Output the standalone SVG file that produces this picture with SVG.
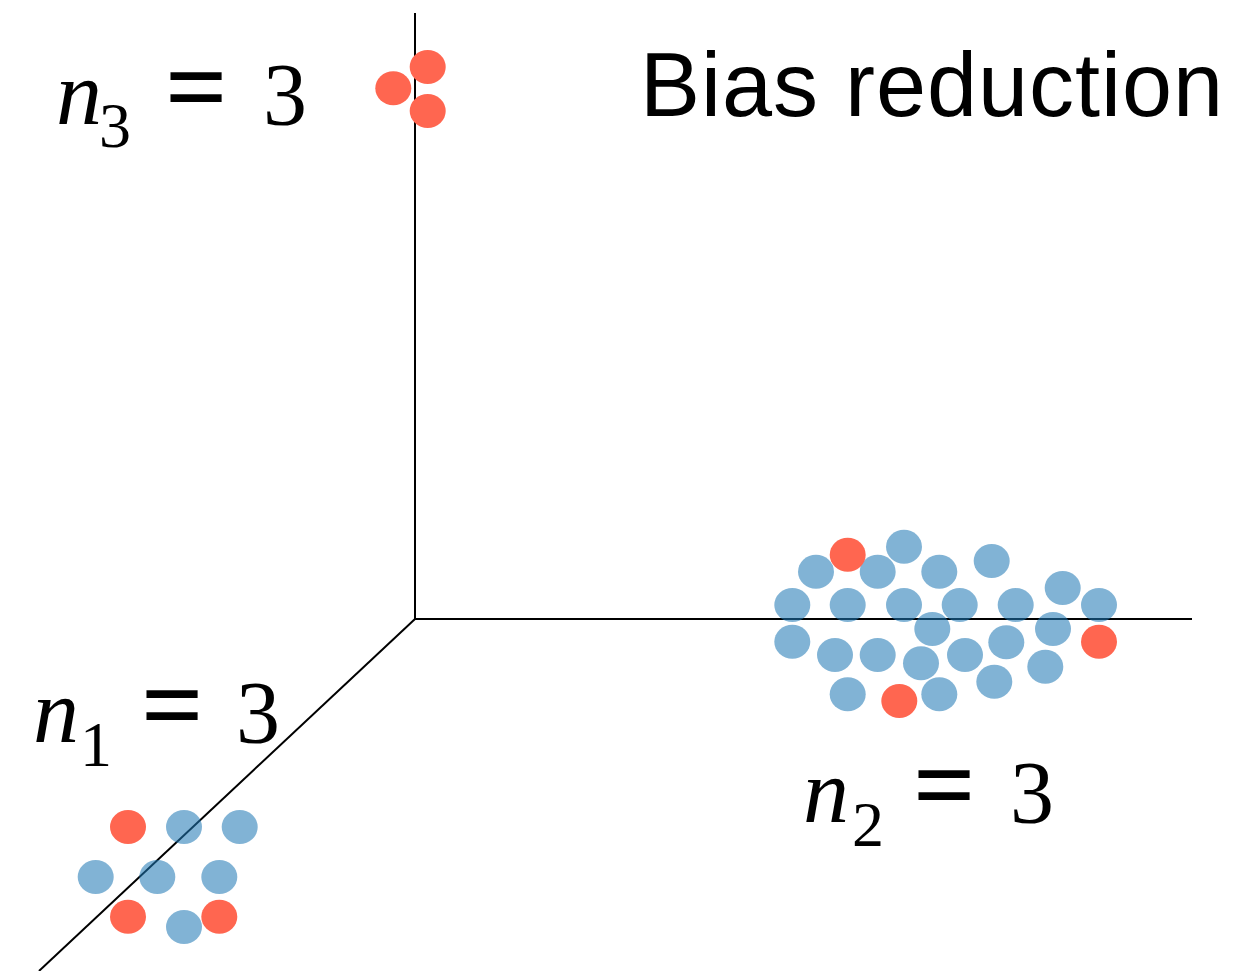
<svg xmlns="http://www.w3.org/2000/svg" width="1235" height="971" viewBox="0 0 1235 971">
<style>
.axis{stroke:#000;stroke-width:2;fill:none}
.b{fill:#1f77b4;fill-opacity:0.56}
.r{fill:#ff6650}
.m{font-family:"Liberation Serif",serif;fill:#000}
.it{font-style:italic}
.eq{font-weight:bold}
.title{font-family:"Liberation Sans",Arial,sans-serif;font-size:90px;fill:#000}
</style>
<rect width="1235" height="971" fill="#fff"/>
<g id="axes">
<line class="axis" x1="415" y1="13" x2="415" y2="619"/>
<line class="axis" x1="415" y1="619" x2="1192" y2="619"/>
<line class="axis" x1="415" y1="619" x2="39" y2="971"/>
</g>
<g id="cluster3">
<ellipse class="r" cx="427.7" cy="67" rx="18" ry="17"/>
<ellipse class="r" cx="393.3" cy="88.3" rx="18" ry="17"/>
<ellipse class="r" cx="427.7" cy="111" rx="18" ry="17"/>
</g>
<g id="cluster2">
<ellipse class="b" cx="904" cy="546.7" rx="18" ry="17"/>
<ellipse class="b" cx="816" cy="571.7" rx="18" ry="17"/>
<ellipse class="b" cx="877.7" cy="571.7" rx="18" ry="17"/>
<ellipse class="b" cx="939.3" cy="571.7" rx="18" ry="17"/>
<ellipse class="b" cx="991.7" cy="561" rx="18" ry="17"/>
<ellipse class="b" cx="1062.7" cy="588" rx="18" ry="17"/>
<ellipse class="b" cx="792.3" cy="605" rx="18" ry="17"/>
<ellipse class="b" cx="847.7" cy="605" rx="18" ry="17"/>
<ellipse class="b" cx="904" cy="605" rx="18" ry="17"/>
<ellipse class="b" cx="959.7" cy="605" rx="18" ry="17"/>
<ellipse class="b" cx="1015.7" cy="605" rx="18" ry="17"/>
<ellipse class="b" cx="1099" cy="605" rx="18" ry="17"/>
<ellipse class="b" cx="932.3" cy="629" rx="18" ry="17"/>
<ellipse class="b" cx="1053" cy="629" rx="18" ry="17"/>
<ellipse class="b" cx="792.3" cy="641.7" rx="18" ry="17"/>
<ellipse class="b" cx="1006.3" cy="642.3" rx="18" ry="17"/>
<ellipse class="b" cx="835" cy="655" rx="18" ry="17"/>
<ellipse class="b" cx="877.7" cy="655" rx="18" ry="17"/>
<ellipse class="b" cx="921" cy="663.3" rx="18" ry="17"/>
<ellipse class="b" cx="965" cy="655" rx="18" ry="17"/>
<ellipse class="b" cx="1045.3" cy="666.7" rx="18" ry="17"/>
<ellipse class="b" cx="847.7" cy="694.3" rx="18" ry="17"/>
<ellipse class="b" cx="939.3" cy="694.3" rx="18" ry="17"/>
<ellipse class="b" cx="994.3" cy="681.7" rx="18" ry="17"/>
<ellipse class="r" cx="847.7" cy="554.7" rx="18" ry="17"/>
<ellipse class="r" cx="1099" cy="641.7" rx="18" ry="17"/>
<ellipse class="r" cx="899.3" cy="701" rx="18" ry="17"/>
</g>
<g id="cluster1">
<ellipse class="b" cx="184" cy="827" rx="18" ry="17"/>
<ellipse class="b" cx="239.7" cy="827" rx="18" ry="17"/>
<ellipse class="b" cx="95.7" cy="877" rx="18" ry="17"/>
<ellipse class="b" cx="157.3" cy="877" rx="18" ry="17"/>
<ellipse class="b" cx="219.3" cy="877" rx="18" ry="17"/>
<ellipse class="b" cx="184" cy="927" rx="18" ry="17"/>
<ellipse class="r" cx="128" cy="827" rx="18" ry="17"/>
<ellipse class="r" cx="128" cy="916.7" rx="18" ry="17"/>
<ellipse class="r" cx="219.3" cy="916.7" rx="18" ry="17"/>
</g>
<g id="title">
<text class="title" x="640" y="116" textLength="583" lengthAdjust="spacing">Bias reduction</text>
</g>
<g id="label-n3">
<text class="m it" x="56" y="124" font-size="92">n</text>
<text class="m" x="99" y="147" font-size="64">3</text>
<text class="m eq" x="165" y="124" font-size="110">=</text>
<text class="m" x="263" y="124" font-size="88">3</text>
</g>
<g id="label-n1">
<text class="m it" x="33" y="742" font-size="92">n</text>
<text class="m" x="80" y="766" font-size="64">1</text>
<text class="m eq" x="141" y="742" font-size="110">=</text>
<text class="m" x="236" y="742" font-size="88">3</text>
</g>
<g id="label-n2">
<text class="m it" x="803" y="822" font-size="92">n</text>
<text class="m" x="852" y="846" font-size="64">2</text>
<text class="m eq" x="913" y="822" font-size="110">=</text>
<text class="m" x="1010" y="822" font-size="88">3</text>
</g>
</svg>
